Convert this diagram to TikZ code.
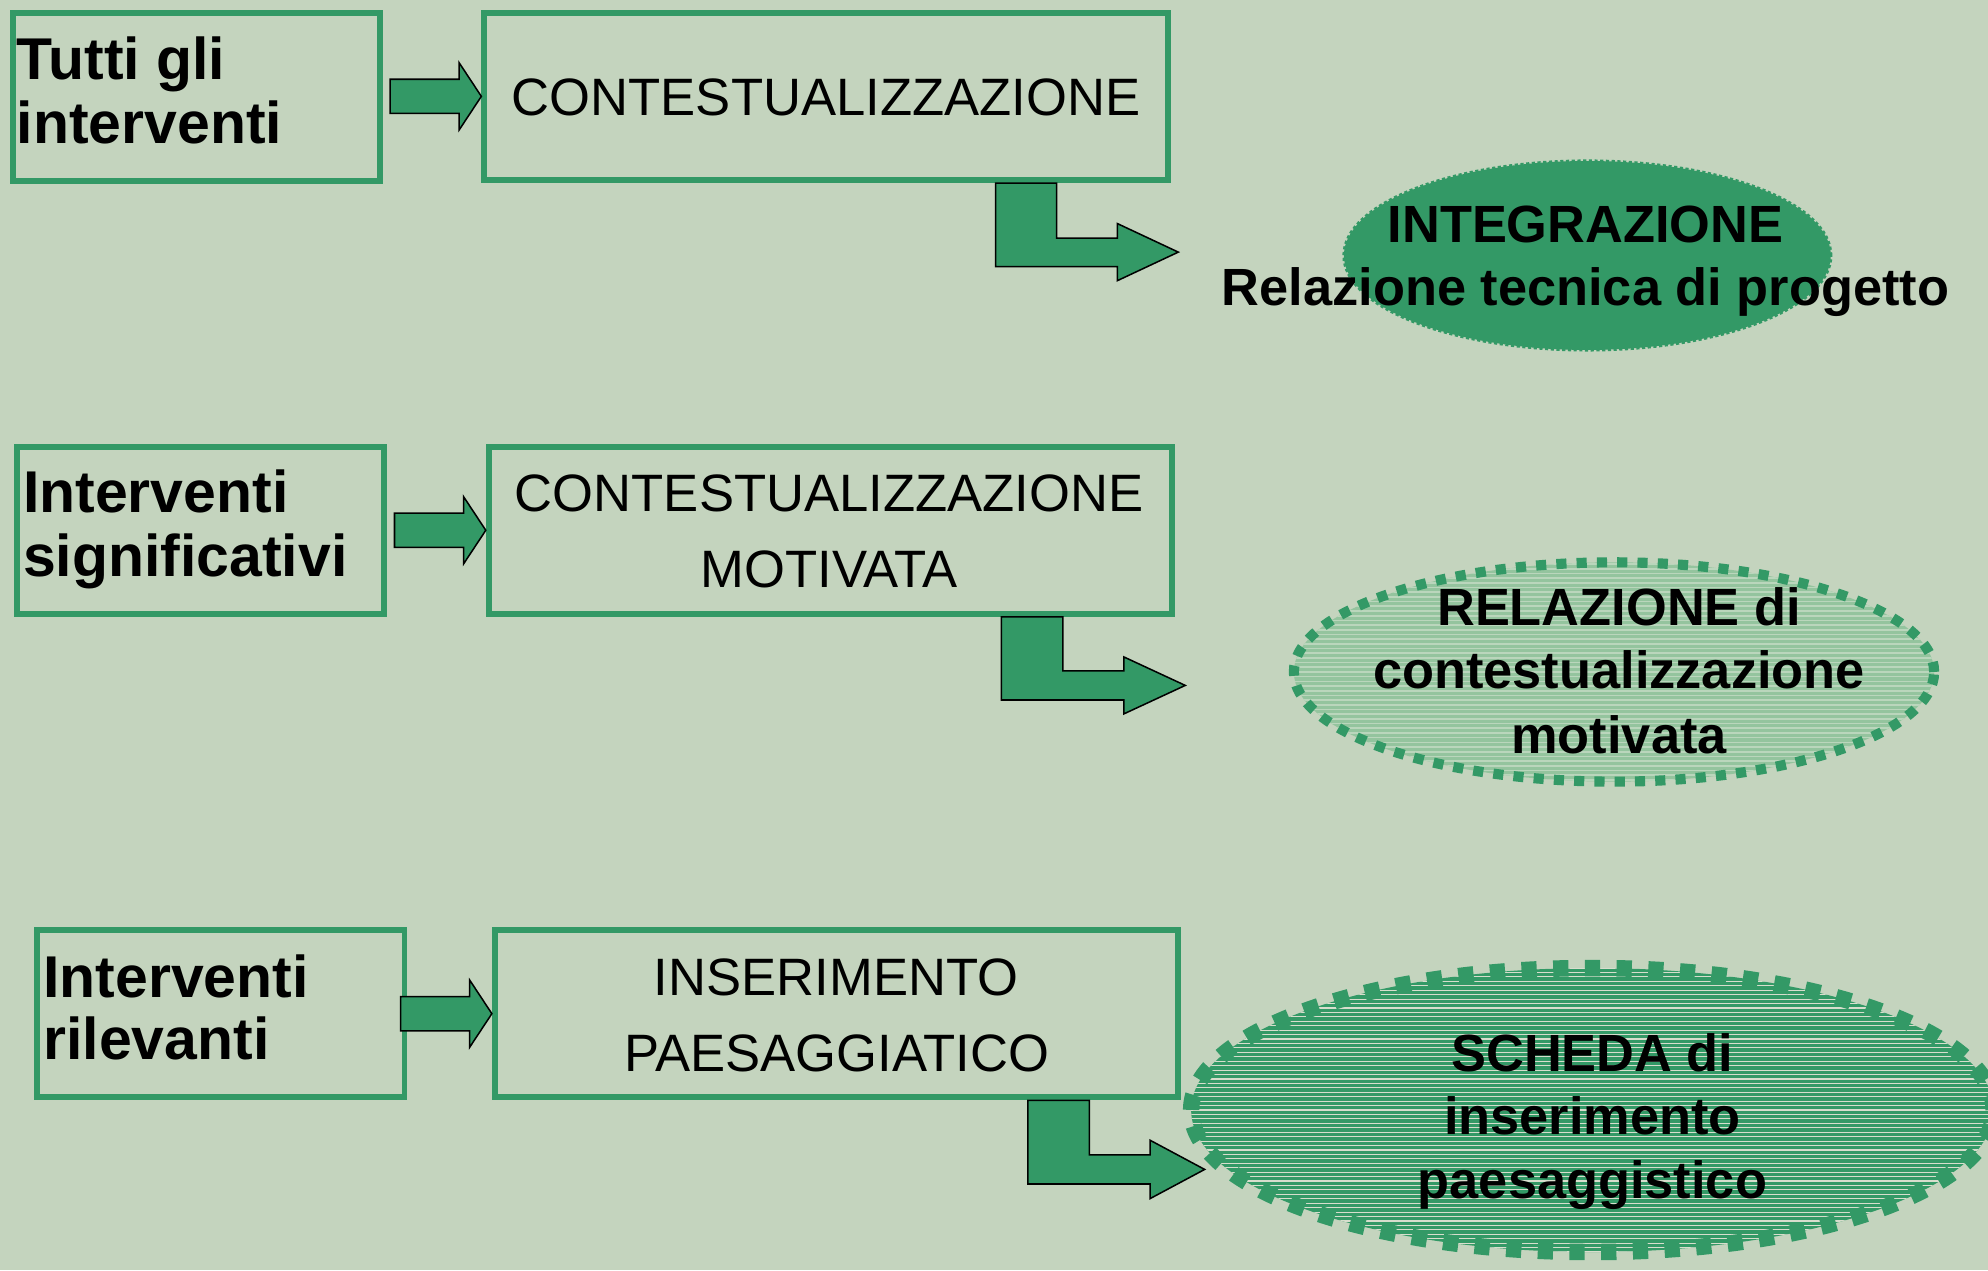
\documentclass[tikz,border=0pt]{standalone}
\usepackage{fontspec}
\setmainfont{Liberation Sans}
\usetikzlibrary{shapes.geometric,calc}
\definecolor{bgc}{HTML}{C4D4BE}
\definecolor{grn}{HTML}{339966}
\definecolor{efill}{RGB}{148,196,158}
\definecolor{eline}{RGB}{186,214,188}
\definecolor{sline}{RGB}{215,222,205}
\begin{document}
\begin{tikzpicture}[x=1pt,y=-1pt,
  box/.style={draw=grn, line width=4.7pt, rectangle, inner sep=0pt},
  lbox/.style={box, minimum width=289.5pt, minimum height=132pt},
  mbox/.style={box, minimum width=539pt, minimum height=132pt},
  lbl/.style={font=\fontsize{46.5}{50}\selectfont\bfseries, anchor=base west, inner sep=0pt},
  mtxt/.style={font=\fontsize{41.5}{50}\selectfont, anchor=base, inner sep=0pt},
  etxt/.style={font=\fontsize{41.3}{50}\selectfont\bfseries, anchor=base, inner sep=0pt},
  blk/.style={fill=grn, draw=black, line width=1.2pt, line join=miter},
  oval/.style={ellipse, inner sep=0pt}
]
\fill[bgc] (0,0) rectangle (1568,1002);
\useasboundingbox (0,0) rectangle (1568,1002);
\clip (0,0) rectangle (1568,1002);

% boxes
\node[lbox] (L1) at (155,76.5) {};
\node[mbox] (M1) at (651.5,76) {};
\node[lbox] (L2) at (158.25,418.25) {};
\node[mbox] (M2) at (655,418.25) {};
\node[lbox] (L3) at (174.3,799.3) {};
\node[mbox] (M3) at (659.8,799.5) {};

% ellipses
\node[oval, fill=grn, draw=grn, line width=2.5pt, dash pattern=on 2.5pt off 2pt,
      minimum width=384pt, minimum height=149pt] (E1) at (1252,201.5) {};
\node[oval, fill=efill, draw=grn, line width=8pt, dash pattern=on 8pt off 8pt,
      minimum width=505pt, minimum height=173pt,
      path picture={\foreach \k in {-35,...,35}{\draw[solid, eline, line width=1.3pt]
        ($(path picture bounding box.center)+(-330,\k*3.7)$) -- ++(660,0);}}] (E2) at (1273,530) {};
\node[oval, fill=grn, draw=grn, line width=13pt, dash pattern=on 12pt off 13pt,
      minimum width=633pt, minimum height=224pt,
      path picture={\foreach \k in {-40,...,40}{\draw[solid, sline, line width=0.9pt]
        ($(path picture bounding box.center)+(-340,\k*3.5)$) -- ++(680,0);}}] (E3) at (1256,875.5) {};

% straight block arrows
\draw[blk] (M1.west) -- ++(-17.5,-26.5) -- ++(0,13) -- ++(-54.5,0) -- ++(0,27) -- ++(54.5,0) -- ++(0,13) -- cycle;
\draw[blk] (M2.west) -- ++(-17.5,-26.5) -- ++(0,13) -- ++(-54.5,0) -- ++(0,27) -- ++(54.5,0) -- ++(0,13) -- cycle;
\draw[blk] (M3.west) -- ++(-17.5,-26.5) -- ++(0,13) -- ++(-54.5,0) -- ++(0,27) -- ++(54.5,0) -- ++(0,13) -- cycle;

% bent block arrows
\draw[blk] ($(M1.south east)+(-138,0)$) -- ++(48,0) -- ++(0,43.5) -- ++(48,0) -- ++(0,-11.5)
  -- ++(48,22.5) -- ++(-48,22.5) -- ++(0,-11) -- ++(-96,0) -- cycle;
\draw[blk] ($(M2.south east)+(-137,0)$) -- ++(48.5,0) -- ++(0,42.5) -- ++(48,0) -- ++(0,-11)
  -- ++(48.5,22.5) -- ++(-48.5,22.5) -- ++(0,-11) -- ++(-96.5,0) -- cycle;
\draw[blk] ($(M3.south east)+(-121,0)$) -- ++(48.5,0) -- ++(0,43) -- ++(48,0) -- ++(0,-11.5)
  -- ++(43,23) -- ++(-43,23) -- ++(0,-11.5) -- ++(-96.5,0) -- cycle;

% texts row 1
\node[lbl] (t1a) at (13,63) {Tutti gli};
\node[lbl] (t1b) at (13,113) {interventi};
\node[mtxt] (m1a) at (651.5,91) {CONTESTUALIZZAZIONE};
\node[etxt] (e1a) at (1250.5,191) {INTEGRAZIONE};
\node[etxt] (e1b) at (1250.5,241) {Relazione tecnica di progetto};

% texts row 2
\node[lbl] (t2a) at (18,404.5) {Interventi};
\node[lbl] (t2b) at (18,455) {significativi};
\node[mtxt] (m2a) at (654,403.6) {CONTESTUALIZZAZIONE};
\node[mtxt] (m2b) at (654,463.5) {MOTIVATA};
\node[etxt] (e2a) at (1277,493) {RELAZIONE di};
\node[etxt] (e2b) at (1277,543) {contestualizzazione};
\node[etxt] (e2c) at (1277,594) {motivata};

% texts row 3
\node[lbl] (t3a) at (34,786.5) {Interventi};
\node[lbl] (t3b) at (34,836) {rilevanti};
\node[mtxt] (m3a) at (659.5,785.5) {INSERIMENTO};
\node[mtxt] (m3b) at (660,845.5) {PAESAGGIATICO};
\node[etxt] (e3a) at (1256,845) {SCHEDA di};
\node[etxt] (e3b) at (1256,895) {inserimento};
\node[etxt] (e3c) at (1256,945) {paesaggistico};
\end{tikzpicture}
\end{document}
